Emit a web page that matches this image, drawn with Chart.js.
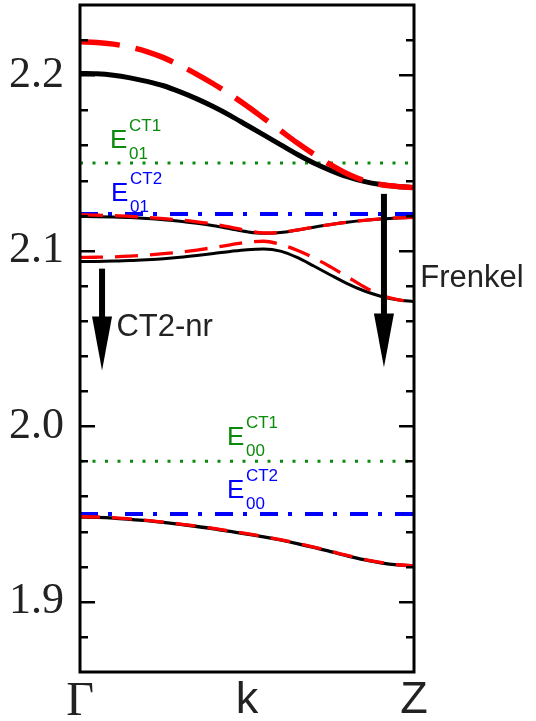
<!DOCTYPE html>
<html>
<head>
<meta charset="utf-8">
<script src="https://cdn.jsdelivr.net/npm/chart.js@4/dist/chart.umd.min.js"></script>
<style>
html, body { margin: 0; padding: 0; background: #fff; }
#wrap { width: 536px; height: 721px; }
</style>
</head>
<body>
<div id="wrap"><canvas id="c" width="536" height="721"></canvas></div>
<script>
/* ---------- data (energy in eV along Gamma -> Z) ---------- */
const kPath = [0, 0.05, 0.1, 0.15, 0.2, 0.25, 0.3, 0.35, 0.4, 0.45, 0.5,
               0.55, 0.6, 0.65, 0.7, 0.75, 0.8, 0.85, 0.9, 0.95, 1];

const upperBlack = [2.201, 2.2008, 2.2, 2.1985, 2.1965, 2.194, 2.1905, 2.1865, 2.182, 2.177, 2.1715,
                    2.166, 2.1605, 2.155, 2.15, 2.1458, 2.1422, 2.1395, 2.1377, 2.1366, 2.136];
const upperRed   = [2.219, 2.2187, 2.2177, 2.216, 2.2135, 2.21, 2.2055, 2.2005, 2.195, 2.189, 2.1825,
                    2.1755, 2.1685, 2.1615, 2.155, 2.149, 2.1438, 2.14, 2.1377, 2.1366, 2.136];

const midUpBlack = [2.1195, 2.1194, 2.1192, 2.1189, 2.1184, 2.1177, 2.1168, 2.1156, 2.1142, 2.1125, 2.1108,
                    2.1099, 2.1104, 2.1118, 2.1134, 2.1149, 2.1162, 2.1173, 2.1181, 2.1187, 2.119];
const midUpRed   = [2.1205, 2.1203, 2.12, 2.1196, 2.119, 2.1183, 2.1175, 2.1165, 2.1152, 2.1135, 2.1115,
                    2.1101, 2.1104, 2.1118, 2.1134, 2.1149, 2.1162, 2.1173, 2.1181, 2.1187, 2.119];

const midLowBlack = [2.0938, 2.0939, 2.0941, 2.0944, 2.0949, 2.0955, 2.0963, 2.0973, 2.0984, 2.0996, 2.1006,
                     2.101, 2.0998, 2.0962, 2.0913, 2.0862, 2.0813, 2.0772, 2.0741, 2.0721, 2.071];
const midLowRed   = [2.0962, 2.0963, 2.0965, 2.0969, 2.0975, 2.0983, 2.0992, 2.1004, 2.1018, 2.1034, 2.1049,
                     2.1054, 2.1036, 2.1003, 2.096, 2.0908, 2.0852, 2.0795, 2.0748, 2.0722, 2.071];

const lowBlack = [1.9483, 1.9481, 1.9477, 1.947, 1.9462, 1.9452, 1.9441, 1.9429, 1.9416, 1.9401, 1.9386,
                  1.937, 1.9352, 1.9332, 1.931, 1.9286, 1.9262, 1.924, 1.9222, 1.921, 1.9205];
const lowRed   = [1.9485, 1.9483, 1.9479, 1.9472, 1.9464, 1.9454, 1.9443, 1.9431, 1.9418, 1.9403, 1.9388,
                  1.9372, 1.9354, 1.9334, 1.9312, 1.9288, 1.9264, 1.9242, 1.9224, 1.9211, 1.9205];

/* CT reference levels */
const ct1Levels = [2.15, 1.98];
const ct2Levels = [2.121, 1.95];

/* axes */
const yMajorTicks = [1.9, 2.0, 2.1, 2.2];
const yMinorTicks = [1.88, 1.92, 1.94, 1.96, 1.98, 2.02, 2.04, 2.06, 2.08, 2.12, 2.14, 2.16, 2.18, 2.22];
const kTickValues = [0, 0.5, 1];
const kTickLabels = ['\u0393', 'k', 'Z'];

/* arrows */
const arrowX   = [0.066, 0.91];
const arrowTop = [2.0898, 2.1324];
const arrowTip = [2.0318, 2.0335];

/* level labels: E, superscript, subscript */
const levelSup   = ['CT1', 'CT2', 'CT1', 'CT2'];
const levelSub   = ['01', '01', '00', '00'];
const levelX     = [0.09, 0.093, 0.44, 0.44];
const levelY     = [2.1585, 2.1284, 1.9896, 1.9589];
const levelColor = ['#0b8a0b', '#0000ff', '#0b8a0b', '#0000ff'];

/* text notes */
const noteText = ['Frenkel', 'CT2-nr'];
const noteX    = [1.019, 0.109];
const noteY    = [2.0795, 2.0517];

/* ---------- helpers ---------- */
const RED = '#ff0000', GREEN = '#0b8a0b', BLUE = '#0000ff';

function pts(vals) {
    return vals.map((v, i) => ({ x: kPath[i], y: v }));
}
function flat(v) {
    return [{ x: 0, y: v }, { x: 1, y: v }];
}
function curve(vals, color, width, dash, order) {
    return {
        data: pts(vals), borderColor: color, borderWidth: width,
        borderDash: dash, borderCapStyle: 'butt',
        pointRadius: 0, cubicInterpolationMode: 'monotone', order: order
    };
}
function level(v, color, width, dash) {
    return {
        data: flat(v), borderColor: color, borderWidth: width,
        borderDash: dash, borderCapStyle: 'butt', pointRadius: 0, order: 3
    };
}

/* ---------- frame, inward ticks, arrows and labels ---------- */
const decorPlugin = {
    id: 'decor',
    afterDraw(chart) {
        const { ctx, chartArea: a, scales: { x, y } } = chart;
        ctx.save();

        ctx.strokeStyle = '#000';
        ctx.lineWidth = 2.5;
        const tick = (v, len) => {
            const py = Math.round(y.getPixelForValue(v)) + 0.25;
            ctx.beginPath();
            ctx.moveTo(a.left, py); ctx.lineTo(a.left + len, py);
            ctx.moveTo(a.right, py); ctx.lineTo(a.right - len, py);
            ctx.stroke();
        };
        yMajorTicks.forEach(v => tick(v, 15));
        yMinorTicks.forEach(v => tick(v, 8));

        ctx.lineWidth = 3;
        ctx.strokeRect(a.left, a.top, a.width, a.height);

        /* arrows */
        ctx.fillStyle = '#000';
        arrowX.forEach((xv, i) => {
            const px = x.getPixelForValue(xv);
            const top = y.getPixelForValue(arrowTop[i]);
            const tip = y.getPixelForValue(arrowTip[i]);
            const headTop = tip - 54;
            ctx.fillRect(px - 3, top, 6, headTop - top + 1);
            ctx.beginPath();
            ctx.moveTo(px - 10, headTop);
            ctx.lineTo(px + 10, headTop);
            ctx.lineTo(px, tip);
            ctx.closePath();
            ctx.fill();
        });

        /* E levels */
        ctx.textBaseline = 'alphabetic';
        ctx.textAlign = 'left';
        levelSup.forEach((s, i) => {
            const px = x.getPixelForValue(levelX[i]);
            const py = y.getPixelForValue(levelY[i]);
            ctx.fillStyle = levelColor[i];
            ctx.font = '26px "Liberation Sans", Arial, sans-serif';
            ctx.fillText('E', px, py);
            ctx.font = '17px "Liberation Sans", Arial, sans-serif';
            ctx.fillText(s, px + 19, py - 17);
            ctx.fillText(levelSub[i], px + 19, py + 11);
        });

        /* notes */
        ctx.fillStyle = '#222';
        ctx.font = '31px "Liberation Sans", Arial, sans-serif';
        noteText.forEach((t, i) => {
            ctx.fillText(t, x.getPixelForValue(noteX[i]), y.getPixelForValue(noteY[i]));
        });

        ctx.restore();
    }
};

/* ---------- chart ---------- */
new Chart(document.getElementById('c'), {
    type: 'line',
    data: {
        datasets: [
            curve(upperRed, RED, 5.5, [40, 16], 1),
            curve(upperBlack, '#000', 5, [], 2),
            curve(midUpRed, RED, 3.3, [23, 12], 1),
            curve(midUpBlack, '#000', 3, [], 2),
            curve(midLowRed, RED, 3.3, [23, 12], 1),
            curve(midLowBlack, '#000', 3, [], 2),
            curve(lowRed, RED, 3.3, [20, 12], 1),
            curve(lowBlack, '#000', 3.3, [], 2),
            level(ct1Levels[0], GREEN, 3, [3, 9.5]),
            level(ct1Levels[1], GREEN, 3, [3, 9.5]),
            level(ct2Levels[0], BLUE, 4, [18, 10, 4, 13]),
            level(ct2Levels[1], BLUE, 4, [18, 10, 4, 13])
        ]
    },
    options: {
        responsive: false,
        devicePixelRatio: 1,
        animation: false,
        layout: { padding: { top: 5, right: 122, left: 0, bottom: 0 } },
        plugins: { legend: { display: false }, tooltip: { enabled: false } },
        scales: {
            x: {
                type: 'linear', min: 0, max: 1,
                grid: { display: false }, border: { display: false },
                afterFit(s) { s.height = 49; s.paddingLeft = 0; s.paddingRight = 0; },
                afterBuildTicks(s) { s.ticks = kTickValues.map(v => ({ value: v })); },
                ticks: {
                    padding: -6, color: '#222', maxRotation: 0, autoSkip: false,
                    callback: (v, i) => kTickLabels[i],
                    font: (c) => c.index === 0
                        ? { family: '"Liberation Serif", "Times New Roman", serif', size: 48 }
                        : { family: '"Liberation Sans", Arial, sans-serif', size: 45 }
                }
            },
            y: {
                type: 'linear', min: 1.86, max: 2.24,
                grid: { display: false }, border: { display: false },
                afterFit(s) { s.width = 80; s.paddingTop = 0; s.paddingBottom = 0; },
                afterBuildTicks(s) { s.ticks = yMajorTicks.map(v => ({ value: v })); },
                ticks: {
                    padding: 8, color: '#222',
                    callback: (v) => v.toFixed(1),
                    font: { family: '"Liberation Serif", "Times New Roman", serif', size: 44 }
                }
            }
        }
    },
    plugins: [decorPlugin]
});
</script>
</body>
</html>
